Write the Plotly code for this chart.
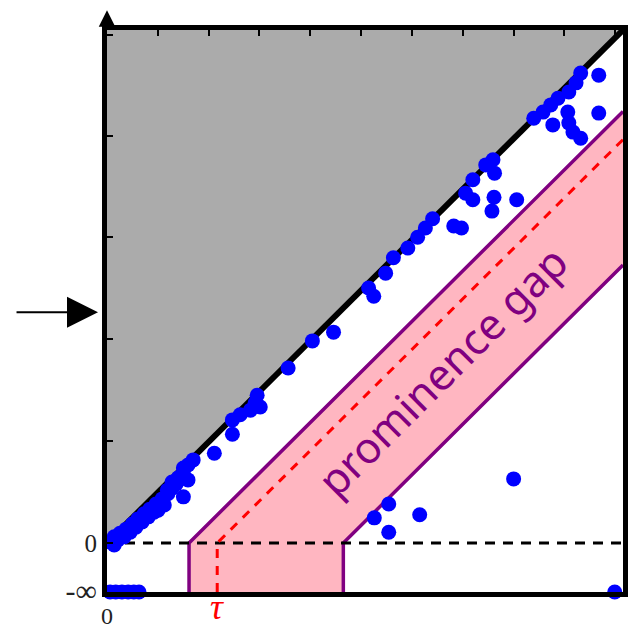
import plotly.graph_objects as go

# ---- data (data coordinates: x in [0,1], y in [0,1]; -inf row at NEG_INF) ----
NEG_INF = -0.0955
TAU = 0.2136
GAP_LO = 0.159   # left edge of prominence-gap band (x at y=0)
GAP_HI = 0.458   # right edge of prominence-gap band (x at y=0)

pts_x = [0.006, 0.014, 0.014, 0.021, 0.025, 0.033, 0.037, 0.045, 0.049, 0.056,
         0.060, 0.068, 0.072, 0.080, 0.083, 0.091, 0.095, 0.099, 0.107, 0.111,
         0.118, 0.117, 0.126, 0.126, 0.134, 0.138, 0.148, 0.148, 0.157, 0.167,
         0.157, 0.148, 0.208, 0.243, 0.243, 0.258, 0.278, 0.287, 0.297, 0.291,
         0.351, 0.398, 0.439, 0.507, 0.517, 0.540, 0.555, 0.583, 0.602, 0.617,
         0.631, 0.672, 0.687, 0.695, 0.709, 0.709, 0.746, 0.750, 0.794, 0.734,
         0.748, 0.751, 0.827, 0.845, 0.860, 0.874, 0.895, 0.909, 0.918, 0.953,
         0.893, 0.864, 0.895, 0.903, 0.918, 0.953,
         0.788, 0.546, 0.518, 0.546, 0.606]
pts_y = [0.002, -0.004, 0.012, 0.006, 0.019, 0.012, 0.027, 0.021, 0.037, 0.031,
         0.047, 0.041, 0.057, 0.051, 0.066, 0.060, 0.076, 0.064, 0.086, 0.074,
         0.096, 0.103, 0.107, 0.119, 0.115, 0.127, 0.136, 0.146, 0.152, 0.162,
         0.123, 0.090, 0.175, 0.212, 0.240, 0.250, 0.259, 0.273, 0.265, 0.288,
         0.341, 0.394, 0.411, 0.497, 0.481, 0.526, 0.556, 0.575, 0.596, 0.614,
         0.632, 0.618, 0.614, 0.682, 0.669, 0.708, 0.647, 0.674, 0.669, 0.737,
         0.747, 0.721, 0.828, 0.840, 0.854, 0.867, 0.879, 0.897, 0.916, 0.912,
         0.840, 0.815, 0.819, 0.801, 0.789, 0.838,
         0.125, 0.076, 0.049, 0.021, 0.055]
neginf_x = [0.006, 0.017, 0.029, 0.041, 0.052, 0.062, 0.984]

x_ticks = [0.0985, 0.197, 0.2955, 0.394, 0.4925, 0.591, 0.6895, 0.788, 0.8865, 0.985]
y_ticks = [0.199, 0.397, 0.596, 0.794, 0.99]

GRAY = "#ABABAB"
PINK = "#FFB6C1"
PURPLE = "#800080"
BLUE = "#0000FF"

fig = go.Figure()

# gray region above the diagonal
fig.add_trace(go.Scatter(x=[0, 0, 1, 0], y=[0, 1, 1, 0], fill="toself",
                         fillcolor=GRAY, line=dict(width=0), mode="lines",
                         hoverinfo="skip", showlegend=False))

# prominence gap band (fill only)
band_x = [GAP_LO, GAP_LO, 1, 1, GAP_HI, GAP_HI, GAP_LO]
band_y = [NEG_INF, 0, 1 - GAP_LO, 1 - GAP_HI, 0, NEG_INF, NEG_INF]
fig.add_trace(go.Scatter(x=band_x, y=band_y, fill="toself", fillcolor=PINK,
                         line=dict(width=0), mode="lines", hoverinfo="skip",
                         showlegend=False))
# band outline
fig.add_trace(go.Scatter(x=[GAP_LO, GAP_LO, 1], y=[NEG_INF, 0, 1 - GAP_LO],
                         mode="lines", line=dict(color=PURPLE, width=3.5),
                         showlegend=False, hoverinfo="skip"))
fig.add_trace(go.Scatter(x=[GAP_HI, GAP_HI, 1], y=[NEG_INF, 0, 1 - GAP_HI],
                         mode="lines", line=dict(color=PURPLE, width=3.5),
                         showlegend=False, hoverinfo="skip"))

# dashed zero line
fig.add_trace(go.Scatter(x=[0, 1], y=[0, 0], mode="lines",
                         line=dict(color="black", width=3, dash="10px,8px"),
                         showlegend=False, hoverinfo="skip"))
# tau dashed line
fig.add_trace(go.Scatter(x=[TAU, TAU, 1], y=[NEG_INF, 0, 1 - TAU], mode="lines",
                         line=dict(color="red", width=3, dash="9px,8px"),
                         showlegend=False, hoverinfo="skip"))
# diagonal
fig.add_trace(go.Scatter(x=[0, 1], y=[0, 1], mode="lines",
                         line=dict(color="black", width=6),
                         showlegend=False, hoverinfo="skip"))
# points
fig.add_trace(go.Scatter(x=pts_x, y=pts_y, mode="markers",
                         marker=dict(color=BLUE, size=15, line=dict(width=0)),
                         cliponaxis=False, showlegend=False))
fig.add_trace(go.Scatter(x=neginf_x, y=[NEG_INF] * len(neginf_x), mode="markers",
                         marker=dict(color=BLUE, size=15, line=dict(width=0)),
                         cliponaxis=False, showlegend=False))
# invisible trace to carry the top tick axis
fig.add_trace(go.Scatter(x=[0, 1], y=[0, 0], xaxis="x2", mode="markers",
                         marker=dict(opacity=0), showlegend=False, hoverinfo="skip"))

serif = "Liberation Serif"

fig.update_layout(
    width=635, height=629,
    margin=dict(l=107, r=12, t=30, b=37),
    plot_bgcolor="white", paper_bgcolor="white",
    xaxis=dict(range=[0, 1], showgrid=False, zeroline=False, automargin=False,
               showline=True, linecolor="black", linewidth=5, mirror=True,
               tickvals=[0], ticktext=["0"], ticks="", ticklabelstandoff=-2,
               tickfont=dict(family=serif, size=24, color="#222")),
    xaxis2=dict(range=[0, 1], overlaying="x", side="top", showgrid=False,
                automargin=False,
                zeroline=False, showline=False, tickvals=x_ticks, ticks="inside",
                ticklen=6, tickwidth=1.5, tickcolor="black", showticklabels=False),
    yaxis=dict(range=[NEG_INF, 1], showgrid=False, zeroline=False, automargin=False,
               showline=True, linecolor="black", linewidth=5, mirror=True,
               tickvals=[NEG_INF, 0] + y_ticks,
               ticktext=["<span style='font-size:30px'>-∞</span>", "0"]
                        + [""] * len(y_ticks),
               ticks="inside", ticklen=6, tickwidth=1.5, tickcolor="black",
               tickfont=dict(family=serif, size=25, color="#222")),
)

annotations = [
    dict(x=0.649, y=0.337, xref="x", yref="y", text="prominence gap",
         showarrow=False, textangle=-45,
         font=dict(family="Noto Sans", size=43, color=PURPLE)),
    dict(x=TAU, y=NEG_INF, xref="x", yref="y", yshift=-15, text="<i>τ</i>",
         showarrow=False, borderpad=0,
         font=dict(family=serif, size=36, color="red")),
    # left arrow
    dict(x=-0.0174, y=0.450, xref="paper", yref="y", text="", showarrow=True,
         ax=-83, ay=0, axref="pixel", ayref="pixel", arrowhead=2, arrowsize=3.1,
         arrowwidth=2, arrowcolor="black"),
    # y-axis arrow tip
    dict(x=0, y=1.035, xref="x", yref="paper", text="", showarrow=True,
         ax=0, ay=18, arrowhead=2, arrowsize=1.1, arrowwidth=3, arrowcolor="black"),
]
fig.update_layout(annotations=annotations)

fig.write_html("out.html",
               config={"displayModeBar": False},
               post_script="document.body.style.margin='0px';"
                           "document.body.style.overflow='hidden';")
